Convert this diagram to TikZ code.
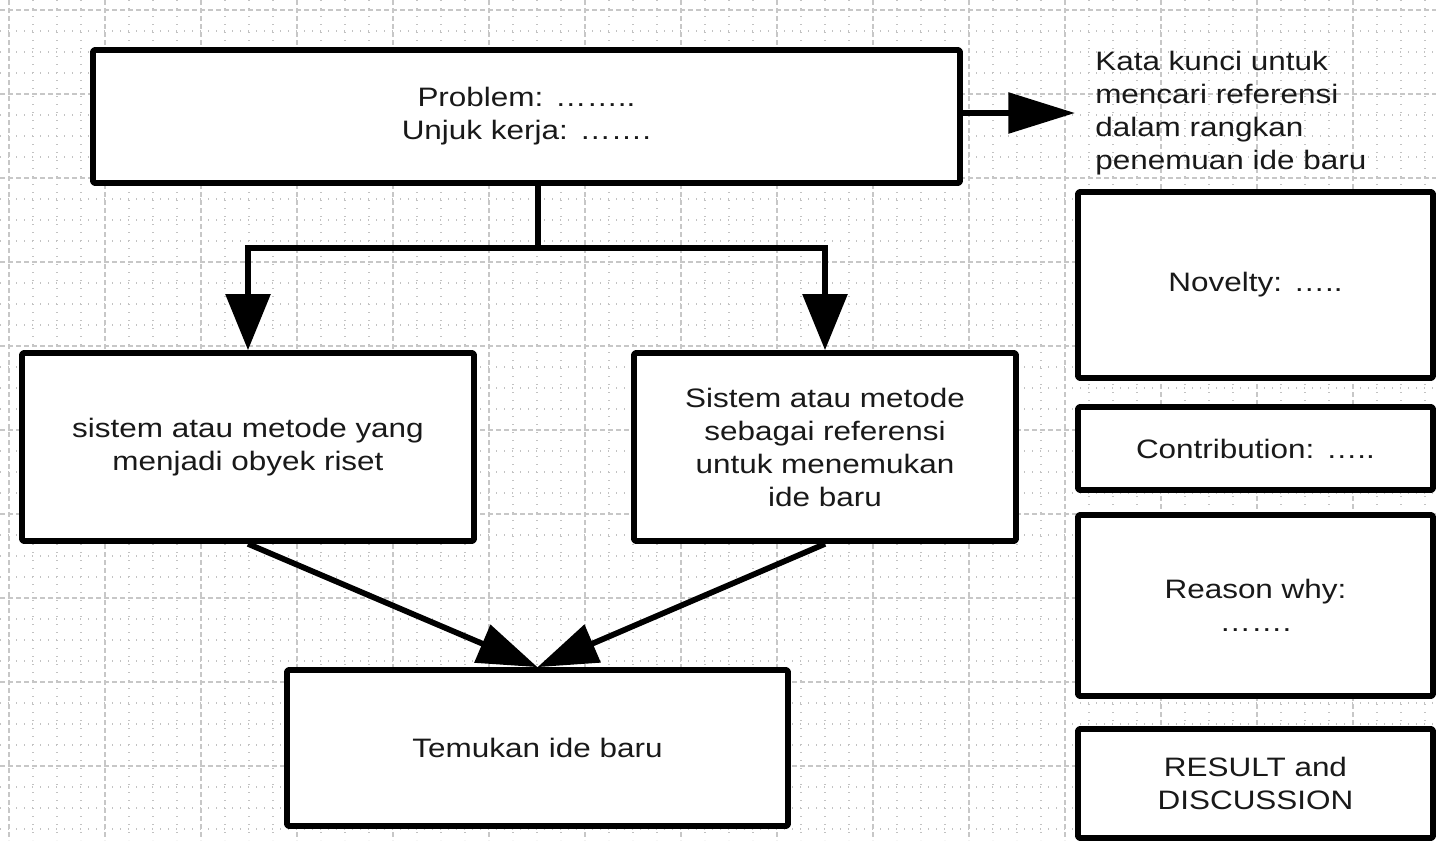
\documentclass[tikz,border=0pt]{standalone}
\usepackage{fontspec}
\setmainfont{Liberation Sans}[FakeStretch=1.18]
\usetikzlibrary{arrows.meta}
\begin{document}
\begin{tikzpicture}[x=0.75pt,y=-0.75pt,
  box/.style={draw=black, fill=white, line width=4.3pt, line join=round, rounded corners=1pt,
    inner sep=0pt, align=center, font=\fontsize{20}{24.75}\selectfont, text=black!90},
  conn/.style={draw=black, line width=4.3pt, line join=miter},
  headA/.style={-{Triangle[length=42pt,width=33pt]}},
  headB/.style={-{Triangle[length=45pt,width=30pt]}},
  headC/.style={-{Triangle[length=50pt,width=30pt]}},
  minorgrid/.style={draw=black!24, line width=0.8pt, dash pattern=on 0.8pt off 5.2pt},
  majorgrid/.style={draw=black!22, line width=0.8pt, dash pattern=on 3.8pt off 2.2pt}
]
\useasboundingbox (0,0) rectangle (1436,840);
\fill[white] (0,0) rectangle (1436,840);
% grid
\begin{scope}
\clip (0,0) rectangle (1436,840);
\foreach \gx in {9,33,...,1436} \draw[minorgrid] (\gx,0) -- (\gx,840);
\foreach \gy in {10,31,...,840} \draw[minorgrid] (0,\gy) -- (1436,\gy);
\foreach \gx in {9,105,...,1436} \draw[majorgrid] (\gx,0) -- (\gx,840);
\foreach \gy in {10,94,...,840} \draw[majorgrid] (0,\gy) -- (1436,\gy);
\end{scope}
% boxes
\node[box, minimum width=867*0.75pt, minimum height=133*0.75pt] (top) at (526.5,116.5)
  {Problem: ……..\\Unjuk kerja: …….};
\node[box, minimum width=452*0.75pt, minimum height=188*0.75pt] (left) at (248,447)
  {sistem atau metode yang\\menjadi obyek riset};
\node[box, minimum width=382*0.75pt, minimum height=188*0.75pt] (right) at (825,447)
  {Sistem atau metode\\sebagai referensi\\untuk menemukan\\ide baru};
\node[box, minimum width=501*0.75pt, minimum height=156*0.75pt] (bot) at (537.5,748)
  {Temukan ide baru};
\node[box, minimum width=355*0.75pt, minimum height=186*0.75pt] (nov) at (1255.5,285)
  {Novelty: …..};
\node[box, minimum width=355*0.75pt, minimum height=83*0.75pt] (con) at (1255.5,448.5)
  {Contribution: …..};
\node[box, minimum width=355*0.75pt, minimum height=181*0.75pt] (rea) at (1255.5,605.5)
  {Reason why:\\…….};
\node[box, minimum width=355*0.75pt, minimum height=109*0.75pt] (res) at (1255.5,783.5)
  {RESULT and\\DISCUSSION};
% keyword text
\node[anchor=west, inner sep=0pt, align=left, font=\fontsize{20}{24.75}\selectfont, text=black!90] (kw) at (1095,113)
  {Kata kunci untuk\\mencari referensi\\dalam rangkan\\penemuan ide baru};
% connectors
\coordinate (jn) at (538,248);
\coordinate (jl) at (248,248);
\coordinate (jr) at (825,248);
\coordinate (kwtip) at (1075,113);
\draw[conn] (top.south -| jn) -- (jn);
\draw[conn, headA] (jn) -- (jl) -- (left.north);
\draw[conn, headA] (jn) -- (jr) -- (right.north);
\draw[conn, headC] (top.east |- kwtip) -- (kwtip);
\draw[conn, headB] (left.south) -- (bot.north);
\draw[conn, headB] (right.south) -- (bot.north);
\end{tikzpicture}
\end{document}
